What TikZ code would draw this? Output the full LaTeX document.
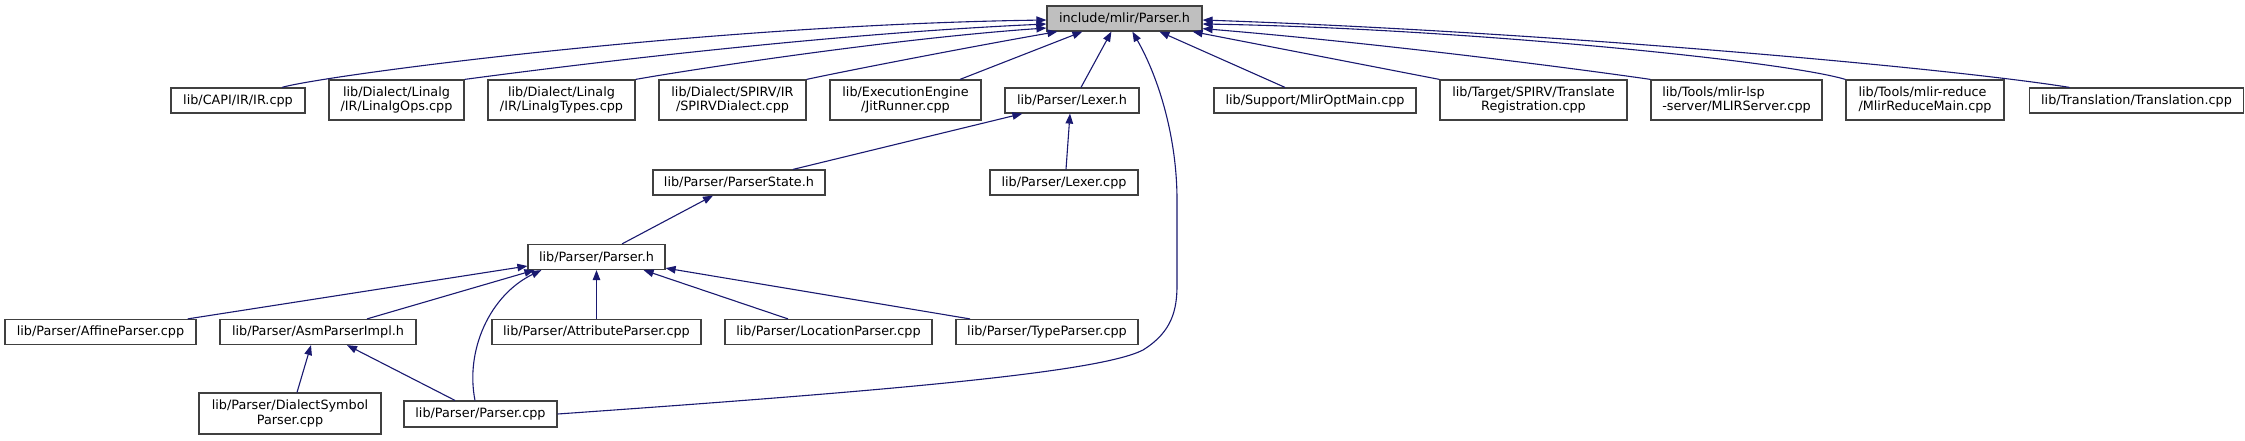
\documentclass[tikz,border=0pt]{standalone}
\usepackage{fontspec}
\setmainfont{DejaVu Sans}
\usetikzlibrary{arrows.meta}
\definecolor{edgecol}{HTML}{191970}
\definecolor{boxline}{HTML}{404040}
\definecolor{startfill}{HTML}{BFBFBF}
\begin{document}
\begin{tikzpicture}[x=1pt, y=-1pt,
  font=\fontsize{12.8}{14.5}\selectfont,
  box/.style={draw=boxline, line width=1.2pt, fill=white, inner sep=0pt, align=center, minimum height=25pt},
  dbox/.style={box, minimum height=40pt},
  edge/.style={draw=edgecol, line width=1.1pt, -{Triangle[length=10pt,width=7.5pt]}}]
\useasboundingbox (0,0) rectangle (2245,440);
% top
\node[box, fill=startfill, minimum width=155pt] (P) at (1124.5,18.5) {include/mlir/Parser.h};
% row 2
\node[box, minimum width=134pt] (ir) at (238,100.5) {lib/CAPI/IR/IR.cpp};
\node[dbox, minimum width=135pt] (lops) at (396.5,100) {lib/Dialect/Linalg\\/IR/LinalgOps.cpp};
\node[dbox, minimum width=147pt] (ltypes) at (561.5,100) {lib/Dialect/Linalg\\/IR/LinalgTypes.cpp};
\node[dbox, minimum width=147pt] (spirv) at (732.5,100) {lib/Dialect/SPIRV/IR\\/SPIRVDialect.cpp};
\node[dbox, minimum width=151pt] (jit) at (905.5,100) {lib/ExecutionEngine\\/JitRunner.cpp};
\node[box, minimum width=134pt] (lexh) at (1072,100.5) {lib/Parser/Lexer.h};
\node[box, minimum width=202pt] (opt) at (1315,100.5) {lib/Support/MlirOptMain.cpp};
\node[dbox, minimum width=187pt] (tspirv) at (1533.5,100) {lib/Target/SPIRV/Translate\\Registration.cpp};
\node[dbox, minimum width=171pt, align=left] (lsp) at (1736.5,100) {lib/Tools/mlir-lsp\\-server/MLIRServer.cpp};
\node[dbox, minimum width=158pt, align=left] (red) at (1925,100) {lib/Tools/mlir-reduce\\/MlirReduceMain.cpp};
\node[box, minimum width=214pt] (trans) at (2136.5,100.5) {lib/Translation/Translation.cpp};
% row 3
\node[box, minimum width=172pt] (pstate) at (739,182.5) {lib/Parser/ParserState.h};
\node[box, minimum width=148pt] (lexcpp) at (1064,182.5) {lib/Parser/Lexer.cpp};
% row 4
\node[box, minimum width=137pt] (ph) at (596.5,257) {lib/Parser/Parser.h};
% row 5
\node[box, minimum width=191pt] (aff) at (100.5,332) {lib/Parser/AffineParser.cpp};
\node[box, minimum width=196pt] (asm) at (318,332) {lib/Parser/AsmParserImpl.h};
\node[box, minimum width=209pt] (attr) at (596.5,332) {lib/Parser/AttributeParser.cpp};
\node[box, minimum width=207pt] (loc) at (828.5,332) {lib/Parser/LocationParser.cpp};
\node[box, minimum width=182pt] (type) at (1047,332) {lib/Parser/TypeParser.cpp};
% row 6
\node[box, minimum width=182pt, minimum height=41pt] (dsym) at (290,413.5) {lib/Parser/DialectSymbol\\Parser.cpp};
\node[box, minimum width=153pt, minimum height=26pt] (pcpp) at (480.5,414) {lib/Parser/Parser.cpp};

% edges to include/mlir/Parser.h
\draw[edge] ([xshift=44pt]ir.north) .. controls (320,76) and (700,25) .. ([yshift=-1.5pt]P.west);
\draw[edge] (lops.north east) .. controls (520,72) and (800,35) .. ([yshift=-5.5pt]P.west);
\draw[edge] (ltypes.north east) .. controls (700,68) and (900,38) .. ([yshift=-9.5pt]P.west);
\draw[edge] (spirv.north east) .. controls (850,70) and (980,45) .. ([xshift=11pt]P.south west);
\draw[edge] ([xshift=54.5pt]jit.north) -- ([xshift=36pt]P.south west);
\draw[edge] ([xshift=9pt]lexh.north) -- ([xshift=65pt]P.south west);
\draw[edge] ([xshift=-30pt]opt.north) -- ([xshift=113pt]P.south west);
\draw[edge] (tspirv.north west) -- ([xshift=-10pt]P.south east);
\draw[edge] (lsp.north west) .. controls (1600,72) and (1400,45) .. ([yshift=3pt]P.south east);
\draw[edge] (red.north west) .. controls (1780,60) and (1450,28) .. ([yshift=-5.5pt]P.east);
\draw[edge] ([xshift=-67pt]trans.north) .. controls (1950,68) and (1550,32) .. ([yshift=-1.5pt]P.east);
\draw[edge] (pcpp.east) .. controls (900,390) and (1100,372) .. (1143,350)
  .. controls (1172,332) and (1177,310) .. (1177,285) -- (1177,200)
  .. controls (1177,140) and (1160,80) .. ([xshift=86pt]P.south west);
% row 3 edges
\draw[edge] ([xshift=54pt]pstate.north) -- ([xshift=18pt]lexh.south west);
\draw[edge] ([xshift=2pt]lexcpp.north) -- ([xshift=-2pt]lexh.south);
\draw[edge] ([xshift=25.5pt]ph.north) -- ([xshift=-26pt]pstate.south);
% row 5 edges
\draw[edge] ([xshift=-9pt]aff.north east) -- ([yshift=-9pt]ph.west);
\draw[edge] ([xshift=49pt]asm.north) -- ([xshift=7pt]ph.south west);
\draw[edge] ([xshift=-5.5pt]pcpp.north) .. controls (465,350) and (490,295) .. ([xshift=14pt]ph.south west);
\draw[edge] (attr.north) -- (ph.south);
\draw[edge] ([xshift=-40.5pt]loc.north) -- ([xshift=-22pt]ph.south east);
\draw[edge] ([xshift=-77pt]type.north) -- ([yshift=2pt]ph.south east);
% row 6 edges
\draw[edge] ([xshift=7pt]dsym.north) -- ([xshift=-7pt]asm.south);
\draw[edge] ([xshift=-25.5pt]pcpp.north) -- ([xshift=29pt]asm.south);
\end{tikzpicture}
\end{document}
